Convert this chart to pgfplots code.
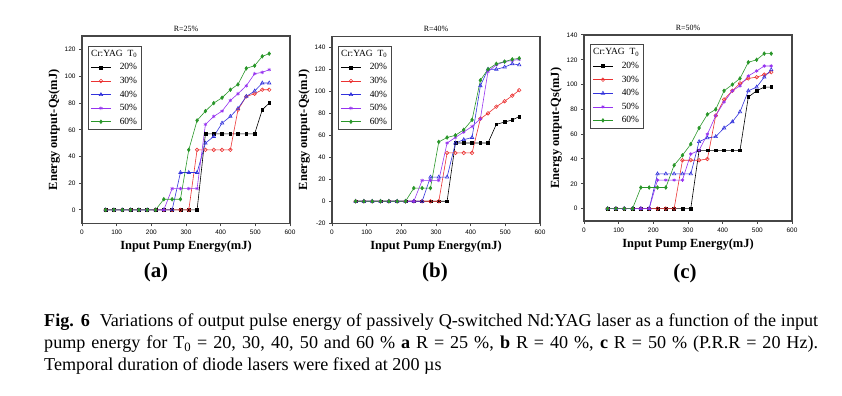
\documentclass[border=0pt]{standalone}
\usepackage{pgfplots}
\usepackage{pgfplotstable}
\pgfplotsset{compat=1.18}
\usepackage{fontspec}
\setmainfont{Liberation Serif}
\newfontfamily\tickfont{Liberation Sans}
\definecolor{c30}{RGB}{235,50,50}
\definecolor{c40}{RGB}{50,50,220}
\definecolor{c50}{RGB}{150,50,240}
\definecolor{c60}{RGB}{40,150,40}
\definecolor{framec}{RGB}{70,70,70}

\pgfplotstableread{
x s20 s30 s40 s50 s60
68 0 0 0 0 0
92 0 0 0 0 0
116 0 0 0 0 0
140 0 0 0 0 0
164 0 0 0 0 0
188 0 0 0 0 0
212 0 0 0 0 0
236 0 0 0 0 8
260 0 0 0 16 8
284 0 0 28 16 8
308 0 0 28 16 45
332 0 45 28 16 67
356 57 45 50 64 74
380 57 45 55 70 80
404 57 45 65 74 84
428 57 45 70 82 90
450 57 75 76 87 94
474 57 85 85 93 106
498 57 87 89 102 108
520 75 90 95 103 115
540 80 90 95 105 117
}\tabA

\pgfplotstableread{
x s20 s30 s40 s50 s60
68 0 0 0 0 0
92 0 0 0 0 0
116 0 0 0 0 0
140 0 0 0 0 0
164 0 0 0 0 0
188 0 0 0 0 0
212 0 0 0 0 0
236 0 0 0 0 12
260 0 0 0 19 12
284 0 0 22 19 12
308 0 0 22 19 54
332 0 44 22 53 58
356 53 44 53 58 60
380 53 44 56 63 65
404 53 44 58 68 74
428 53 75 105 75 110
450 53 80 120 118 120
474 70 86 120 124 125
498 72 91 122 127 127
520 74 96 125 128 129
540 77 101 124 129 130
}\tabB

\pgfplotstableread{
x s20 s30 s40 s50 s60
68 0 0 0 0 0
92 0 0 0 0 0
116 0 0 0 0 0
140 0 0 0 0 0
164 0 0 0 0 17
188 0 0 0 0 17
212 0 0 28 23 17
236 0 0 28 23 17
260 0 0 28 23 35
284 0 39 28 23 43
308 0 39 28 44 52
332 47 39 54 47 65
356 47 40 57 60 76
380 47 75 58 75 80
404 47 88 65 86 95
428 47 95 70 95 100
450 47 101 78 99 105
474 90 105 95 107 118
498 95 106 98 111 120
520 98 108 106 115 125
540 98 110 112 115 125
}\tabC

\pgfplotsset{
  panel/.style={
    scale only axis, width=208bp,
    xmin=0, xmax=600, xtick={0,100,...,600},
    tick align=outside, xtick pos=bottom, ytick pos=left,
    major tick length=3bp,
    every tick/.style={framec, line width=1pt},
    axis line style={framec, line width=1.6pt},
    /pgf/number format/assume math mode=true,
    tick label style={font=\tickfont\fontsize{6.5}{7.5}\selectfont},
    label style={font=\bfseries\fontsize{12.5}{14}\selectfont},
    xlabel={Input Pump Energy(mJ)},
    ylabel={Energy output-Qs(mJ)},
    xlabel style={yshift=0bp},
    ylabel style={yshift=-2bp},
    title style={font=\fontsize{8}{9}\selectfont, at={(0.5,1)}, anchor=south, yshift=-5bp},
    legend style={at={(0.03,0.95)}, anchor=north west,
      font=\fontsize{9.5}{11}\selectfont, draw=framec, line width=0.8pt,
      inner sep=2bp, row sep=1.8bp},
    legend cell align=right,
    legend image code/.code={\draw[mark repeat=2,mark phase=2] plot coordinates {(0bp,0bp) (10bp,0bp) (20bp,0bp)};},
  },
  s20/.style={black, mark=square*, mark size=1.4bp, line width=0.6pt},
  s30/.style={c30, mark=o, mark size=1.8bp, line width=0.6pt, mark options={fill=white, solid}},
  s40/.style={c40, mark=triangle, mark size=2bp, line width=0.6pt, mark options={fill=white, solid}},
  s50/.style={c50, mark=asterisk, mark size=1.8bp, line width=0.6pt},
  s60/.style={c60, mark=diamond*, mark size=1.8bp, line width=0.6pt},
}

\newcommand{\allseries}[1]{%
  \addlegendimage{empty legend}
  \addlegendentry{\hspace*{-22bp}\rule[-5bp]{0pt}{11bp}Cr:YAG\ \ T\textsubscript{0}}
  \addplot[s20] table[x=x,y=s20] {#1}; \addlegendentry{20\%}
  \addplot[s30] table[x=x,y=s30] {#1}; \addlegendentry{30\%}
  \addplot[s40] table[x=x,y=s40] {#1}; \addlegendentry{40\%}
  \addplot[s50] table[x=x,y=s50] {#1}; \addlegendentry{50\%}
  \addplot[s60] table[x=x,y=s60] {#1}; \addlegendentry{60\%}
}

\begin{document}
\begin{tikzpicture}
\path[use as bounding box] (0,0) rectangle (842bp,396bp);

\begin{axis}[panel, at={(82bp,172.7bp)}, anchor=south west, height=187bp,
  ymin=-10, ymax=130, ytick={0,20,...,120}, title={R=25\%}]
  \allseries{\tabA}
\end{axis}

\begin{axis}[panel, at={(332bp,172.7bp)}, anchor=south west, height=187bp,
  ymin=-20, ymax=150, ytick={-20,0,...,140}, title={R=40\%}]
  \allseries{\tabB}
\end{axis}

\begin{axis}[panel, at={(584bp,175bp)}, anchor=south west, height=186bp,
  ymin=-10, ymax=140, ytick={0,20,...,140}, title={R=50\%}]
  \allseries{\tabC}
\end{axis}

\node[font=\bfseries\fontsize{21}{23}\selectfont] at (156bp,124bp) {(a)};
\node[font=\bfseries\fontsize{21}{23}\selectfont] at (435bp,124bp) {(b)};
\node[font=\bfseries\fontsize{21}{23}\selectfont] at (685bp,123bp) {(c)};

\node[anchor=base west, inner sep=0, font=\fontsize{18.2}{21}\selectfont] at (44bp,69bp)
  {\makebox[774bp][s]{\textbf{Fig. 6}\ \ Variations of output pulse energy of passively Q-switched Nd:YAG laser as a function of the input}};
\node[anchor=base west, inner sep=0, font=\fontsize{18.2}{21}\selectfont] at (44bp,47bp)
  {\makebox[774bp][s]{pump energy for T\textsubscript{0} = 20, 30, 40, 50 and 60 \% \textbf{a} R = 25 \%, \textbf{b} R = 40 \%, \textbf{c} R = 50 \% (P.R.R = 20 Hz).}};
\node[anchor=base west, inner sep=0, font=\fontsize{18.2}{21}\selectfont] at (44bp,26bp)
  {Temporal duration of diode lasers were fixed at 200 µs};
\end{tikzpicture}
\end{document}
